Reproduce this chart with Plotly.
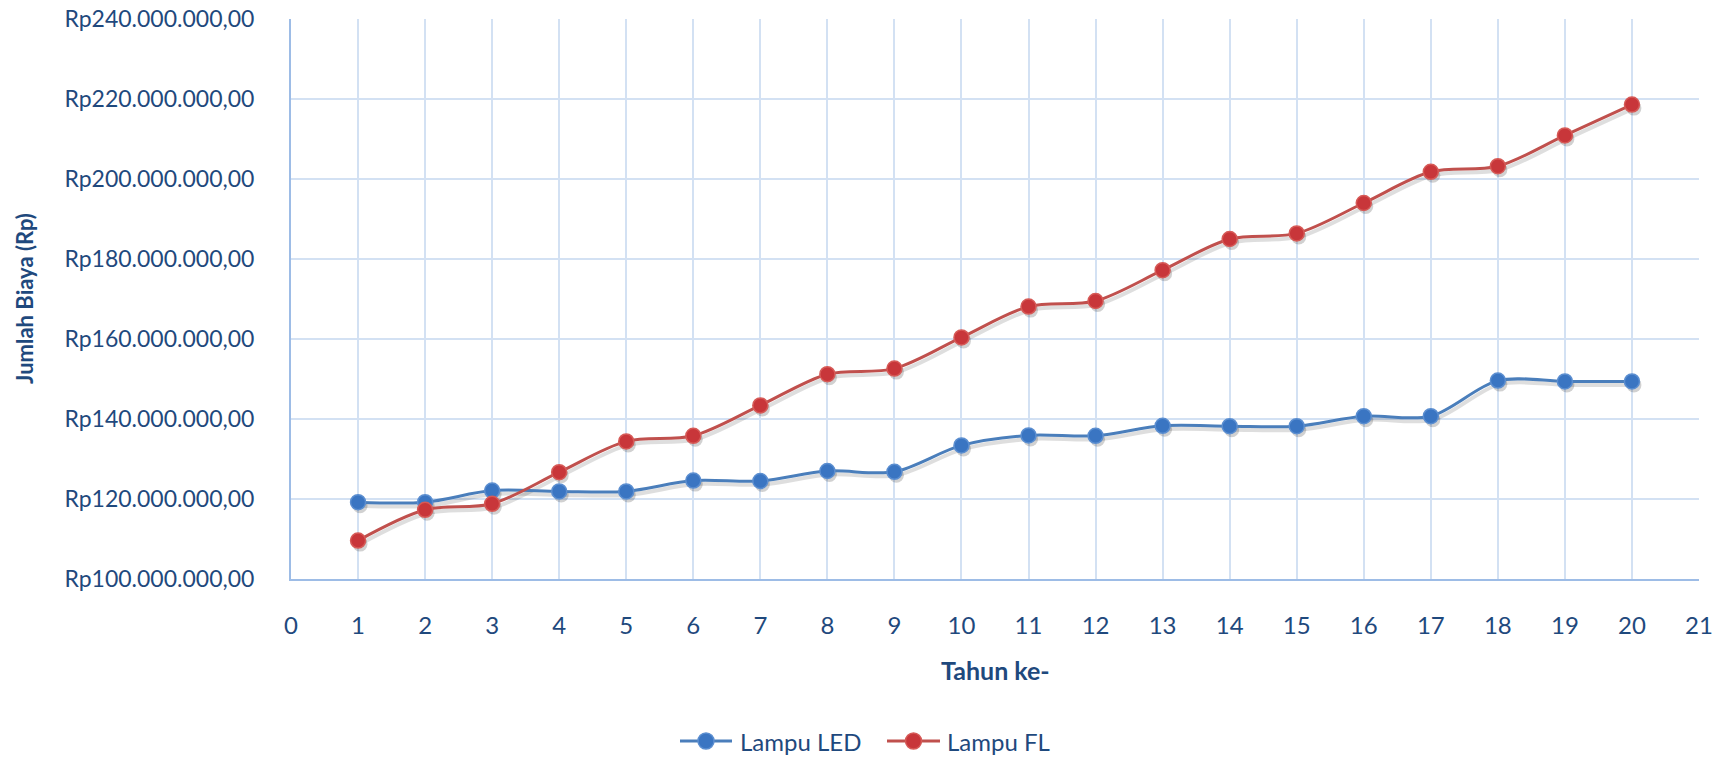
import plotly.graph_objects as go

# Tahun ke- (year index)
tahun = list(range(1, 21))

# Jumlah biaya kumulatif (Rupiah)
biaya_led = [119.2e6, 119.2e6, 122.1e6, 121.9e6, 121.9e6, 124.6e6, 124.5e6, 127.0e6, 126.8e6, 133.4e6,
             135.9e6, 135.8e6, 138.3e6, 138.2e6, 138.2e6, 140.7e6, 140.7e6, 149.6e6, 149.4e6, 149.4e6]
biaya_fl = [109.6e6, 117.3e6, 118.8e6, 126.7e6, 134.4e6, 135.8e6, 143.4e6, 151.2e6, 152.6e6, 160.4e6,
            168.1e6, 169.5e6, 177.2e6, 185.0e6, 186.4e6, 194.0e6, 201.8e6, 203.2e6, 210.9e6, 218.6e6]

series = [
    ("Lampu LED", biaya_led, "#4A7EBB", "#3A75C2", "#5B8ED0"),
    ("Lampu FL", biaya_fl, "#C0504D", "#C8363A", "#D65A57"),
]

TEXT = "#1F497D"
GRID = "#D3E1F3"
AXIS = "#9DBCE6"
FONT = "Lato"

W, H = 1735, 757
ML, MR, MT, MB = 291, 36, 19, 178
PW = W - ML - MR
PH = H - MT - MB
Y0, Y1 = 100e6, 240e6
X0, X1 = 0, 21


def px_x(p):
    return (p - ML) / PW


def px_y(p):
    return (H - MB - p) / PH


# soft drop shadow: a few pixels below/right of each series
SH_DX = 2 * (X1 - X0) / PW
SH_DY = 3.5 * (Y1 - Y0) / PH

fig = go.Figure()

for name, vals, lc, mc, mlc in series:
    fig.add_trace(go.Scatter(
        x=[t + SH_DX for t in tahun], y=[v - SH_DY for v in vals],
        mode="lines+markers", showlegend=False, hoverinfo="skip",
        line=dict(color="rgba(0,0,0,0.13)", width=4, shape="spline", smoothing=0.9),
        marker=dict(size=15, color="rgba(0,0,0,0.18)"),
    ))

for name, vals, lc, mc, mlc in series:
    fig.add_trace(go.Scatter(
        x=tahun, y=vals, name=name, showlegend=False,
        mode="lines+markers",
        line=dict(color=lc, width=3, shape="spline", smoothing=0.9),
        marker=dict(size=15, color=mc, line=dict(color=mlc, width=1.5)),
    ))

# legend entries (line segment with a dot, then label)
shapes = []
annotations = []
legend_items = [(680, 732, 738, series[0]), (887, 940, 945, series[1])]
LEG_Y = 741
for xa, xb, xt, (name, vals, lc, mc, mlc) in legend_items:
    shapes.append(dict(type="line", xref="paper", yref="paper",
                       x0=px_x(xa), x1=px_x(xb), y0=px_y(LEG_Y), y1=px_y(LEG_Y),
                       line=dict(color=lc, width=3)))
    xm = (xa + xb) / 2
    r = 8
    shapes.append(dict(type="circle", xref="paper", yref="paper",
                       x0=px_x(xm - r), x1=px_x(xm + r), y0=px_y(LEG_Y + r), y1=px_y(LEG_Y - r),
                       fillcolor=mc, line=dict(color=mlc, width=1.5)))
    annotations.append(dict(text=name, xref="paper", yref="paper",
                            x=px_x(xt), y=px_y(LEG_Y), xanchor="left", yanchor="middle",
                            showarrow=False, font=dict(family=FONT, size=24, color=TEXT)))

annotations += [
    dict(text="<b>Jumlah Biaya (Rp)</b>", xref="paper", yref="paper",
         x=px_x(24), y=0.5, xanchor="center", yanchor="middle", textangle=-90,
         showarrow=False, font=dict(family=FONT, size=22, color=TEXT)),
    dict(text="<b>Tahun ke-</b>", xref="paper", yref="paper",
         x=0.5, y=px_y(670), xanchor="center", yanchor="middle",
         showarrow=False, font=dict(family=FONT, size=25, color=TEXT)),
]

fig.update_layout(
    width=W, height=H,
    margin=dict(l=ML, r=MR, t=MT, b=MB, autoexpand=False),
    paper_bgcolor="white", plot_bgcolor="white",
    separators=",.",
    font=dict(family=FONT, color=TEXT, size=23),
    showlegend=False,
    shapes=shapes,
    annotations=annotations,
)

fig.update_xaxes(
    range=[X0, X1], tick0=0, dtick=1, showgrid=True, gridcolor=GRID, gridwidth=2,
    showline=True, linecolor=AXIS, linewidth=2, zeroline=False, ticks="",
    tickfont=dict(family=FONT, size=24, color=TEXT), ticklabelstandoff=24,
)
fig.update_yaxes(
    range=[Y0, Y1], tick0=Y0, dtick=20e6, showgrid=True, gridcolor=GRID, gridwidth=2,
    showline=True, linecolor=AXIS, linewidth=2, zeroline=False, ticks="",
    tickprefix="Rp", tickformat=",.2f",
    tickfont=dict(family=FONT, size=23, color=TEXT), ticklabelstandoff=30,
)

fig.write_html("out.html")
